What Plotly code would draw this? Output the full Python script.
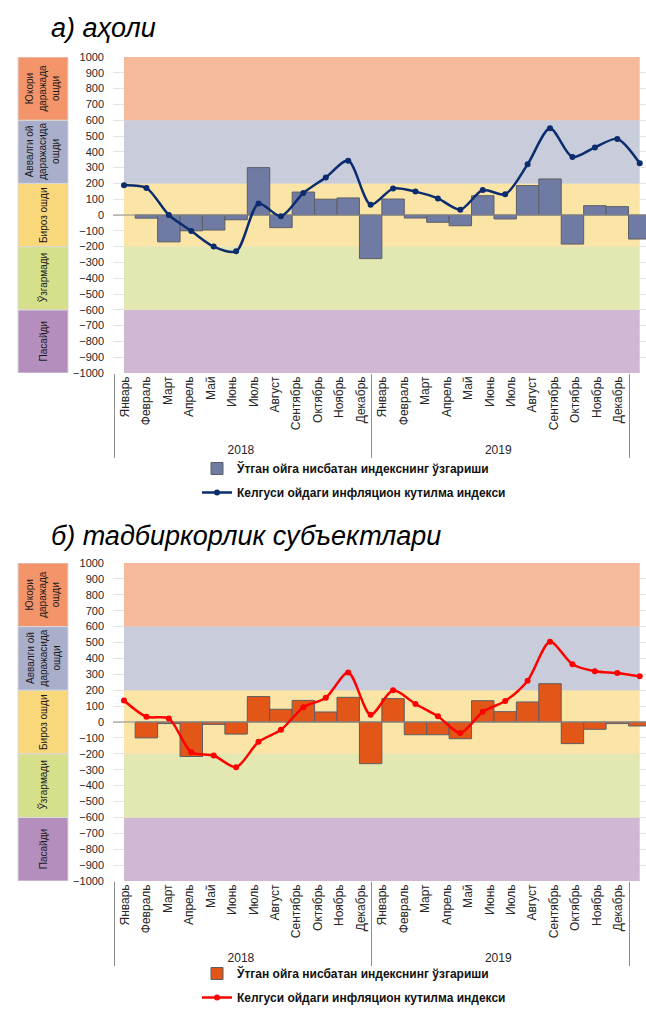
import plotly.graph_objects as go

# categories
months = ["Январь", "Февраль", "Март", "Апрель", "Май", "Июнь", "Июль", "Август",
          "Сентябрь", "Октябрь", "Ноябрь", "Декабрь"]
years = ["2018", "2019"]

# а) аҳоли
pop_change = [None, -20, -170, -100, -95, -30, 300, -80, 145, 100, 108, -276,
              101, -19, -46, -68, 122, -25, 186, 228, -184, 59, 53, -152]
pop_expect = [188, 171, 0, -101, -200, -230, 72, -8, 139, 238, 344, 65,
              167, 148, 105, 34, 158, 131, 321, 549, 367, 428, 481, 327]

# б) тадбиркорлик субъектлари
biz_change = [None, -100, -10, -217, -15, -76, 160, 80, 136, 63, 155, -262,
              147, -80, -80, -105, 134, 65, 126, 241, -136, -46, -10, -25]
biz_expect = [135, 33, 22, -190, -211, -284, -125, -49, 93, 153, 311, 46,
              199, 113, 36, -69, 65, 132, 260, 504, 363, 319, 308, 287]

# zones (bottom -> top)
zone_edges = [-1000, -600, -200, 200, 600, 1000]
zone_names = ["Пасайди", "Ўзгармади", "Бироз ошди",
              "Аввалги ой<br>даражасида<br>ошди", "Юкори<br>даражада<br>ошди"]
zone_fill = ["#D0B7D2", "#E3E7B1", "#FAE4A6", "#C9CCDA", "#F5B99C"]
zone_box = ["#B48EBC", "#D6DF8A", "#F9D87C", "#A9AECA", "#F4946A"]

bar_name = "Ўтган ойга нисбатан индекснинг ўзгариши"
line_name = "Келгуси ойдаги инфляцион кутилма индекси"

W, H = 646, 1012
FONT = "Liberation Sans Narrow, Arial Narrow, Liberation Sans, Arial"
data_range = [-0.49, 23.28]
label_range = [-0.56, 24.29]


def py(p):
    return 1 - p / H


idx = list(range(len(months) * len(years)))
multi_x = [[y for y in years for _ in months], months * len(years)]

fig = go.Figure()


def add_panel(n, change, expect, bar_color, line_color, top_px, bottom_px, legend_id, legend_pos):
    """Add one panel: zone bands, bars, smoothed line and the two-level month axis."""
    xa = "x" if n == 1 else "x3"
    xl = "x2" if n == 1 else "x4"
    ya = "y" if n == 1 else "y2"
    xa_key = "xaxis" if n == 1 else "xaxis3"
    xl_key = "xaxis2" if n == 1 else "xaxis4"
    ya_key = "yaxis" if n == 1 else "yaxis2"

    mid = (idx[0] + idx[-1]) / 2
    span = idx[-1] - idx[0]
    for i in range(len(zone_names)):
        # background zone band
        fig.add_trace(go.Bar(x=[mid], y=[zone_edges[i + 1] - zone_edges[i]], base=[zone_edges[i]],
                             width=[span], marker=dict(color=zone_fill[i], line=dict(width=0)),
                             xaxis=xa, yaxis=ya, showlegend=False, hoverinfo="skip"))
        # legend box on the left
        fig.add_shape(type="rect", xref="paper", yref=ya, x0=18 / W, x1=68 / W,
                      y0=zone_edges[i], y1=zone_edges[i + 1], fillcolor=zone_box[i],
                      line=dict(color="#D9D9D9", width=1), layer="above")
        fig.add_annotation(xref="paper", yref=ya, x=43 / W, xanchor="center", yanchor="middle",
                           y=(zone_edges[i] + zone_edges[i + 1]) / 2,
                           text=zone_names[i], textangle=-90, showarrow=False,
                           font=dict(family=FONT, size=10, color="#1A1A1A"))

    # zero line over the bands
    fig.add_trace(go.Scatter(x=data_range, y=[0, 0], mode="lines",
                             line=dict(color="#8C8C8C", width=1),
                             xaxis=xa, yaxis=ya, showlegend=False, hoverinfo="skip"))

    fig.add_trace(go.Bar(x=idx, y=change, width=1, name=bar_name,
                         marker=dict(color=bar_color, line=dict(color="#5E5E66", width=1)),
                         xaxis=xa, yaxis=ya, legend=legend_id, legendgroup=f"b{n}"))
    fig.add_trace(go.Scatter(x=idx, y=expect, name=line_name, mode="lines+markers",
                             line=dict(color=line_color, width=2.5, shape="spline", smoothing=0.8),
                             marker=dict(color=line_color, size=6),
                             xaxis=xa, yaxis=ya, legend=legend_id, legendgroup=f"l{n}"))
    # invisible trace carrying the month / year labels
    fig.add_trace(go.Scatter(x=multi_x, y=[None] * len(idx), xaxis=xl, yaxis=ya,
                             showlegend=False, hoverinfo="skip"))

    dom = [py(bottom_px), py(top_px)]
    fig.update_layout({
        xa_key: dict(domain=[113 / W, 1], anchor=ya, range=data_range, automargin=False,
                     showticklabels=False, showgrid=False, zeroline=False),
        xl_key: dict(overlaying=xa, anchor=ya, type="multicategory", range=label_range,
                     automargin=False,
                     tickangle=-90, showgrid=False, zeroline=False, showline=False,
                     showdividers=True, dividercolor="#8C8C8C", dividerwidth=1,
                     tickfont=dict(family=FONT, size=12, color="#262626")),
        ya_key: dict(domain=dom, range=[-1000, 1000], tickvals=list(range(-1000, 1001, 100)),
                     automargin=False,
                     showgrid=True, gridcolor="#E4E4E4", gridwidth=1, zeroline=False,
                     ticklabelstandoff=8,
                     tickfont=dict(family=FONT, size=11, color="#262626")),
        legend_id: dict(x=197 / W, xanchor="left", bgcolor="rgba(0,0,0,0)", tracegroupgap=5,
                        font=dict(family=FONT, size=12, color="#111111", weight="bold"),
                        **legend_pos),
    })


add_panel(1, pop_change, pop_expect, "#6F7BA2", "#0B2C6E", 57, 373, "legend",
          dict(y=py(454), yanchor="top"))
add_panel(2, biz_change, biz_expect, "#E25618", "#FF0000", 563, 881, "legend2",
          dict(y=0, yanchor="bottom"))

fig.add_annotation(xref="paper", yref="paper", x=49 / W, y=py(28), xanchor="left",
                   yanchor="middle", text="<i>а) аҳоли</i>", showarrow=False,
                   font=dict(family="Liberation Sans, Arial", size=27, color="#000000"))
fig.add_annotation(xref="paper", yref="paper", x=49 / W, y=py(536), xanchor="left",
                   yanchor="middle", text="<i>б) тадбиркорлик субъектлари</i>", showarrow=False,
                   font=dict(family="Liberation Sans, Arial", size=27, color="#000000"))

fig.update_layout(width=W, height=H, margin=dict(l=0, r=0, t=0, b=0),
                  paper_bgcolor="white", plot_bgcolor="white",
                  barmode="overlay", showlegend=True)

# drop the default page margin so the figure sits at the window's corner
fig.write_html("out.html", config={"displayModeBar": False},
               post_script="document.body.style.margin='0px';")
